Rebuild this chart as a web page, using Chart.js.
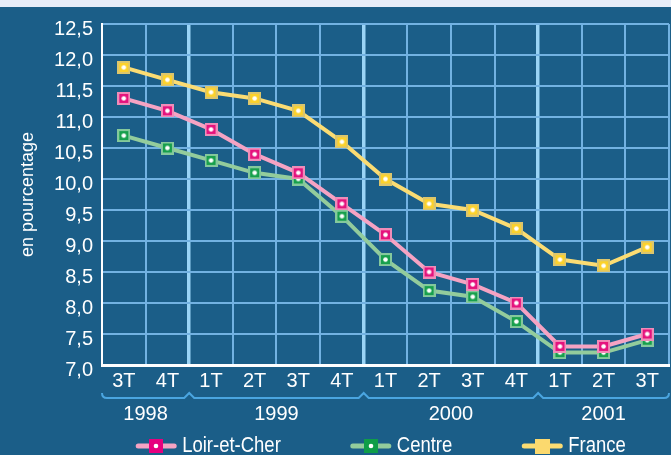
<!DOCTYPE html>
<html>
<head>
<meta charset="utf-8">
<script src="https://cdn.jsdelivr.net/npm/chart.js@4"></script>
<style>
  html, body { margin: 0; padding: 0; background: #1b5e88; }
  #wrap { width: 671px; height: 455px; }
</style>
</head>
<body>
<div id="wrap"><canvas id="chart" width="671" height="455"></canvas></div>
<script>
/* données : taux de chômage trimestriel, 3T 1998 -> 3T 2001 */
const quarters = ["3T", "4T", "1T", "2T", "3T", "4T", "1T", "2T", "3T", "4T", "1T", "2T", "3T"];
const years = ["1998", "1999", "2000", "2001"];
const yearSpans = [2, 4, 4, 3];
const loirEtCher = [11.3, 11.1, 10.8, 10.4, 10.1, 9.6, 9.1, 8.5, 8.3, 8.0, 7.3, 7.3, 7.5];
const centre = [10.7, 10.5, 10.3, 10.1, 10.0, 9.4, 8.7, 8.2, 8.1, 7.7, 7.2, 7.2, 7.4];
const france = [11.8, 11.6, 11.4, 11.3, 11.1, 10.6, 10.0, 9.6, 9.5, 9.2, 8.7, 8.6, 8.9];

const BG = "#1b5e88";
const GRID = "#72b2e2";
const GRID_YEAR = "#9ad4f6";
const BRACE = "#4aa5e0";
const FONT = "'Liberation Sans', Arial, sans-serif";

// petit carré avec un point blanc au centre
function makeMarker(fill, border, dot, size) {
  const c = document.createElement("canvas");
  c.width = size;
  c.height = size;
  const g = c.getContext("2d");
  g.fillStyle = border;
  g.fillRect(0, 0, size, size);
  g.fillStyle = fill;
  g.fillRect(2, 2, size - 4, size - 4);
  if (dot) {
    g.fillStyle = "#fff";
    g.beginPath();
    g.arc(size / 2, size / 2, 2.3, 0, Math.PI * 2);
    g.fill();
  }
  return c;
}

const markers = [
  makeMarker("#e5127d", "#f08cb8", true, 13),
  makeMarker("#17a04c", "#84c99c", true, 13),
  makeMarker("#fcd22a", "#dcc66c", true, 13),
];
const legendMarkers = [
  makeMarker("#e6007e", "#e6007e", true, 14),
  makeMarker("#0f9d48", "#0f9d48", true, 14),
  makeMarker("#fbd96e", "#fbd96e", false, 15),
];

// texte un peu condensé (la police d'origine est étroite)
const SQUEEZE = 0.84;

const decorPlugin = {
  id: "decor",
  beforeDraw(chart) {
    const ctx = chart.ctx;
    ctx.save();
    ctx.fillStyle = BG;
    ctx.fillRect(0, 0, chart.width, chart.height);
    ctx.fillStyle = "#e7edf8";
    ctx.fillRect(0, 0, chart.width, 7);
    ctx.restore();
  },
  afterDraw(chart) {
    const ctx = chart.ctx;
    const x = chart.scales.x;
    const half = (x.getPixelForValue(1) - x.getPixelForValue(0)) / 2;

    // accolades des années
    ctx.save();
    ctx.strokeStyle = BRACE;
    ctx.lineWidth = 2;
    const yb = 398;
    const left = x.getPixelForValue(0) - half;
    const right = x.getPixelForValue(quarters.length - 1) + half;
    ctx.beginPath();
    ctx.moveTo(left, yb - 5);
    ctx.quadraticCurveTo(left, yb, left + 5, yb);
    let start = 0;
    yearSpans.forEach((n, k) => {
      start += n;
      if (k < yearSpans.length - 1) {
        const b = x.getPixelForValue(start) - half;
        ctx.lineTo(b - 5, yb);
        ctx.lineTo(b, yb - 5);
        ctx.lineTo(b + 5, yb);
      }
    });
    ctx.lineTo(right - 5, yb);
    ctx.quadraticCurveTo(right, yb, right, yb - 5);
    ctx.stroke();

    ctx.fillStyle = "#fff";
    ctx.font = "20px " + FONT;
    ctx.textAlign = "center";
    ctx.textBaseline = "middle";
    start = 0;
    yearSpans.forEach((n, k) => {
      const a = x.getPixelForValue(start) - half;
      const b = x.getPixelForValue(start + n - 1) + half;
      ctx.fillText(years[k], (a + b) / 2, 414);
      start += n;
    });

    // légende
    ctx.font = "22px " + FONT;
    ctx.textAlign = "left";
    const lineLen = 40, gapText = 6, gapItem = 70;
    const items = chart.data.datasets.map((ds, i) => ({
      ds, i, w: lineLen + gapText + ctx.measureText(ds.label).width * SQUEEZE,
    }));
    const total = items.reduce((s, it) => s + it.w, 0) + gapItem * (items.length - 1);
    let lx = 381 - total / 2;
    const ly = 446;
    items.forEach((it) => {
      ctx.strokeStyle = it.ds.borderColor;
      ctx.lineWidth = 5;
      ctx.lineCap = "round";
      ctx.beginPath();
      ctx.moveTo(lx + 2, ly);
      ctx.lineTo(lx + lineLen - 2, ly);
      ctx.stroke();
      const m = legendMarkers[it.i];
      ctx.drawImage(m, Math.round(lx + lineLen / 2 - m.width / 2), Math.round(ly - m.height / 2));
      ctx.save();
      ctx.translate(lx + lineLen + gapText, ly);
      ctx.scale(SQUEEZE, 1);
      ctx.fillText(it.ds.label, 0, 0);
      ctx.restore();
      lx += it.w + gapItem;
    });
    ctx.restore();
  },
};

function lineSet(label, data, color, marker) {
  return {
    label,
    data,
    borderColor: color,
    backgroundColor: color,
    borderWidth: 4,
    tension: 0,
    pointStyle: marker,
    pointRadius: 6,
  };
}

new Chart(document.getElementById("chart"), {
  type: "line",
  data: {
    labels: quarters,
    datasets: [
      lineSet("Loir-et-Cher", loirEtCher, "#f5a3c3", markers[0]),
      lineSet("Centre", centre, "#93cc9c", markers[1]),
      lineSet("France", france, "#fbdc73", markers[2]),
    ],
  },
  options: {
    responsive: false,
    animation: false,
    events: [],
    layout: { autoPadding: false, padding: { top: 24, right: 2, left: 0, bottom: 0 } },
    plugins: { legend: { display: false }, tooltip: { enabled: false } },
    scales: {
      x: {
        offset: true,
        grid: {
          offset: true,
          drawTicks: false,
          color: (c) => ([2, 6, 10].includes(c.index) ? GRID_YEAR : GRID),
          lineWidth: (c) => ([2, 6, 10].includes(c.index) ? 3.5 : 2),
        },
        border: { color: "#fff", width: 3 },
        ticks: {
          color: "#fff",
          font: { family: FONT, size: 20 },
          padding: 4,
          maxRotation: 0,
          autoSkip: false,
        },
        afterFit: (s) => {
          s.height = 90;
          s.paddingLeft = 0;
          s.paddingRight = 0;
        },
      },
      y: {
        min: 7,
        max: 12.5,
        grid: {
          drawTicks: false,
          color: (c) => (c.tick && c.tick.value === 7 ? "rgba(0,0,0,0)" : GRID),
          lineWidth: 2,
        },
        border: { color: "#fff", width: 2 },
        ticks: {
          stepSize: 0.5,
          color: "#fff",
          font: { family: FONT, size: 20 },
          padding: 9,
          labelOffset: 5,
          callback: (v) => v.toFixed(1).replace(".", ","),
        },
        title: {
          display: true,
          text: "en pourcentage",
          color: "#fff",
          font: { family: FONT, size: 18 },
          padding: { top: 17, bottom: 0 },
        },
        afterFit: (s) => { s.width = 102; },
      },
    },
  },
  plugins: [decorPlugin],
});
</script>
</body>
</html>
